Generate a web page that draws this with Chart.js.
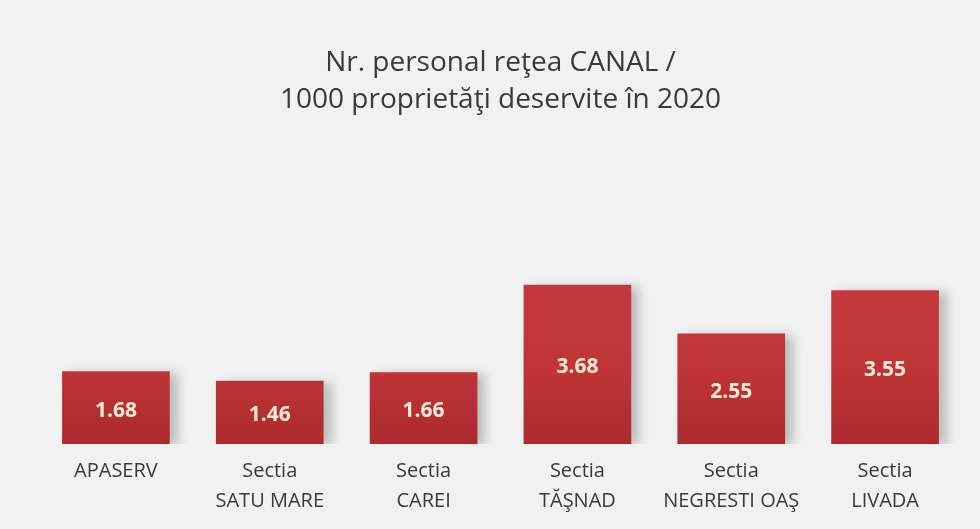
<!DOCTYPE html>
<html>
<head>
<meta charset="utf-8">
<script src="https://cdn.jsdelivr.net/npm/chart.js@4"></script>
<style>
  html, body { margin: 0; padding: 0; background: #f1f1f1; }
  #wrap { position: relative; width: 980px; height: 529px; }
</style>
</head>
<body>
<div id="wrap"><canvas id="chart"></canvas></div>
<script>
// Date extrase din grafic
const categories = [
  ["APASERV"],
  ["Sectia", "SATU MARE"],
  ["Sectia", "CAREI"],
  ["Sectia", "TĂŞNAD"],
  ["Sectia", "NEGRESTI OAŞ"],
  ["Sectia", "LIVADA"]
];
const values = [1.68, 1.46, 1.66, 3.68, 2.55, 3.55];
const titleLines = ["Nr. personal reţea CANAL /", "1000 proprietăţi deservite în 2020"];

// Umbra din dreapta barelor
const shadowPlugin = {
  id: 'barShadow',
  beforeDatasetsDraw(chart) {
    const c = chart.ctx;
    c.save();
    c.shadowColor = 'rgba(0, 0, 0, 0.22)';
    c.shadowBlur = 10;
    c.shadowOffsetX = 8;
    c.shadowOffsetY = 2;
  },
  afterDatasetsDraw(chart) {
    chart.ctx.restore();
  }
};

// Etichete valori in mijlocul barelor
const valueLabels = {
  id: 'valueLabels',
  afterDatasetsDraw(chart) {
    const c = chart.ctx;
    const meta = chart.getDatasetMeta(0);
    c.save();
    c.font = 'bold 21px "Open Sans", sans-serif';
    c.fillStyle = '#f8ead8';
    c.textAlign = 'center';
    c.textBaseline = 'middle';
    meta.data.forEach((bar, i) => {
      const y = (bar.y + bar.base) / 2 + 3;
      c.fillText(values[i].toFixed(2), bar.x, y);
    });
    c.restore();
  }
};

const ctx = document.getElementById('chart');
new Chart(ctx, {
  type: 'bar',
  data: {
    labels: categories,
    datasets: [{
      data: values,
      backgroundColor: function(context) {
        const chart = context.chart;
        const area = chart.chartArea;
        if (!area) return '#bb3335';
        const g = chart.ctx.createLinearGradient(0, area.top, 0, area.bottom);
        g.addColorStop(0, '#c83c3e');
        g.addColorStop(0.7, '#c03538');
        g.addColorStop(1, '#ac2b2e');
        return g;
      },
      borderWidth: 0,
      categoryPercentage: 1.0,
      barPercentage: 0.70
    }]
  },
  options: {
    responsive: true,
    maintainAspectRatio: false,
    animation: false,
    layout: {
      padding: { left: 39, right: 18, top: 10, bottom: 1 }
    },
    plugins: {
      legend: { display: false },
      tooltip: { enabled: false },
      title: {
        display: true,
        text: titleLines,
        color: '#3a3a3a',
        font: { family: '"Open Sans", sans-serif', size: 28, weight: 'normal', lineHeight: 1.3 },
        padding: { top: 35, bottom: 60 }
      }
    },
    scales: {
      x: {
        grid: { display: false, drawTicks: false },
        border: { display: false },
        ticks: {
          color: '#3a3a3a',
          font: { family: '"Open Sans", sans-serif', size: 20, lineHeight: 1.5 },
          padding: 12,
          maxRotation: 0
        }
      },
      y: {
        display: false,
        min: 0,
        max: 6.15
      }
    }
  },
  plugins: [shadowPlugin, valueLabels]
});
</script>
</body>
</html>
